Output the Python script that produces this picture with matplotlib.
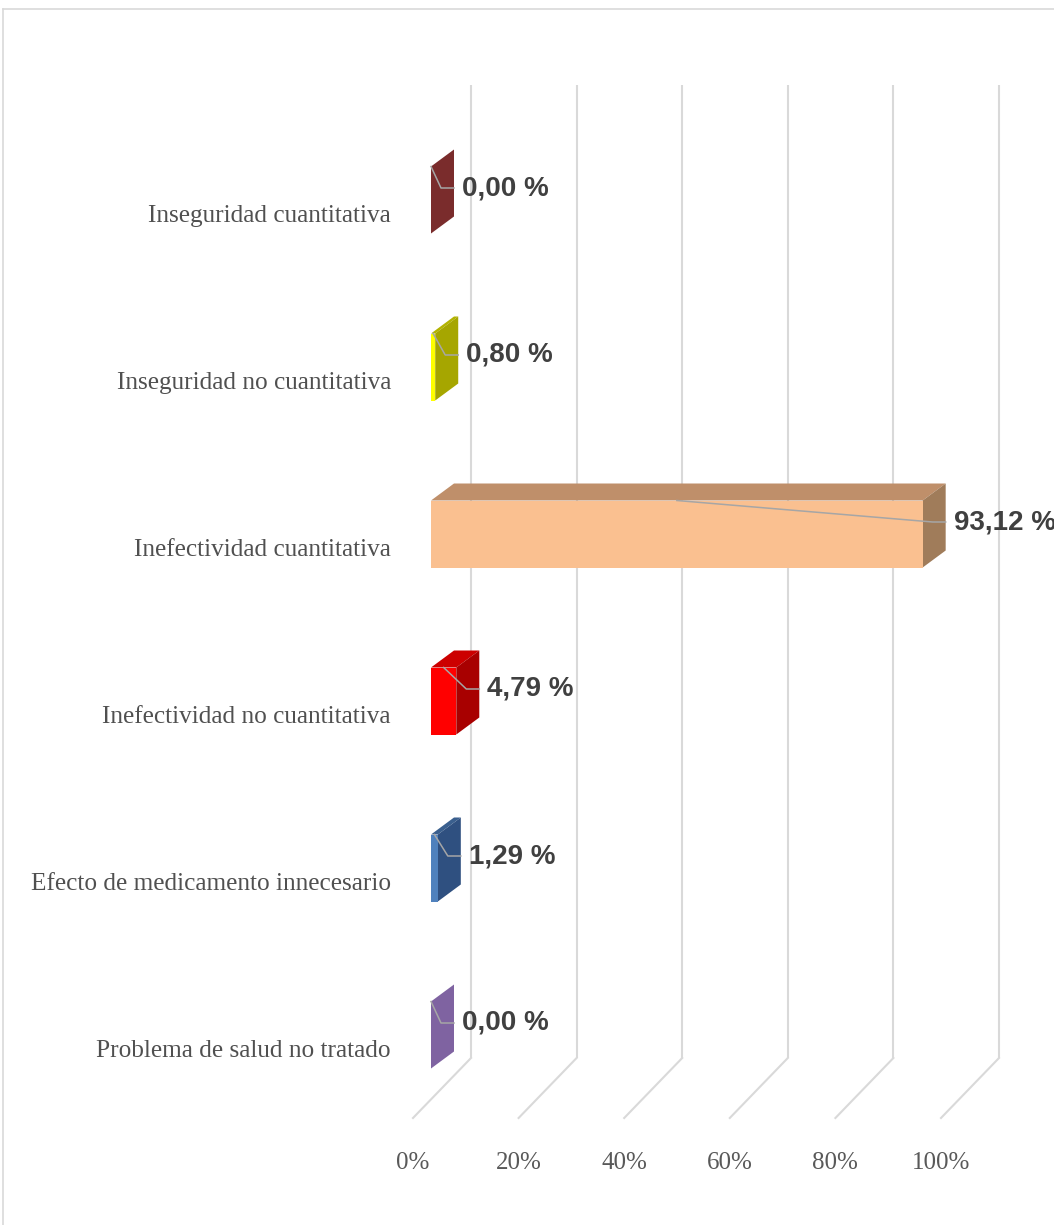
import matplotlib
matplotlib.use("Agg")
import matplotlib.pyplot as plt
from matplotlib.patches import Polygon
from matplotlib.lines import Line2D

# data, bottom category first
categories = ['Problema de salud no tratado', 'Efecto de medicamento innecesario',
              'Inefectividad no cuantitativa', 'Inefectividad cuantitativa',
              'Inseguridad no cuantitativa', 'Inseguridad cuantitativa']
values = [0.00, 1.29, 4.79, 93.12, 0.80, 0.00]
value_labels = ['0,00 %', '1,29 %', '4,79 %', '93,12 %', '0,80 %', '0,00 %']
ticks = [0, 20, 40, 60, 80, 100]
tick_labels = ['0%', '20%', '40%', '60%', '80%', '100%']

front_colors = ['#8064A2', '#4F81BD', '#FF0000', '#FAC090', '#FFFF00', '#953735']
top_colors = ['#7F63A1', '#3A5F8E', '#CC0000', '#BF8F6A', '#B3B300', '#7A2C2C']
side_colors = ['#7F63A1', '#2F5080', '#A80000', '#A07C5A', '#A6A600', '#7A2C2C']

W, H = 1054, 1225
fig = plt.figure(figsize=(W / 100, H / 100), dpi=100)
ax = fig.add_axes([0, 0, 1, 1])

# pixel scale of the axes
px_x = 5.28    # px per percent
px_y = 167.0   # px per category
x0_px, y0_px = 431, 1049   # 0% front edge, first category label
ax.set_xlim(-x0_px / px_x, (W - x0_px) / px_x)
ax.set_ylim((y0_px - H) / px_y, y0_px / px_y)
ax.axis('off')


def dx(p):
    return p / px_x


def dy(p):
    return p / px_y


# back wall / floor gridlines
for t, lab in zip(ticks, tick_labels):
    xb = t + dx(40)
    xf = t - dx(18)
    ax.plot([xb, xb], [dy(y0_px - 85), dy(y0_px - 1058)], color='#D9D9D9', lw=1.5, zorder=1,
            solid_capstyle='butt')
    ax.plot([xb, xf], [dy(y0_px - 1058), dy(y0_px - 1118)], color='#D9D9D9', lw=1.5, zorder=1)
    ax.text(xf, dy(y0_px - 1163), lab, ha='center', va='center', fontsize=18,
            family='Liberation Serif', color='#595959')

# bars
bh = dy(67) / 2
ddx, ddy = dx(23), dy(17)
for i, (v, lab) in enumerate(zip(values, categories)):
    yc = i + dy(14)
    y0, y1 = yc - bh, yc + bh
    ax.add_patch(Polygon([(0, y1), (v, y1), (v + ddx, y1 + ddy), (ddx, y1 + ddy)],
                         closed=True, fc=top_colors[i], ec='none', zorder=3))
    ax.add_patch(Polygon([(v, y0), (v, y1), (v + ddx, y1 + ddy), (v + ddx, y0 + ddy)],
                         closed=True, fc=side_colors[i], ec='none', zorder=3))
    if v > 0:
        ax.add_patch(Polygon([(0, y0), (v, y0), (v, y1), (0, y1)],
                             closed=True, fc=front_colors[i], ec='none', zorder=4))
    # category label
    ax.text(dx(391 - x0_px), i - dy(2), lab, ha='right', va='center', fontsize=18.2,
            family='Liberation Serif', color='#505050')
    # value label with leader line
    lx = v + ddx + dx(8)
    ly = yc + dy(12)
    ax.plot([v / 2, lx - dx(21), lx - dx(8)], [y1, ly, ly], color='#A6A6A6', lw=1.1, zorder=5)
    ax.text(lx, ly, value_labels[i], ha='left', va='center', fontsize=20,
            family='Liberation Sans', fontweight='bold', color='#404040', zorder=6)

# chart frame
fx, fy = 3 / W, 1 - 9 / H
fig.add_artist(Line2D([fx, 1], [fy, fy], transform=fig.transFigure, color='#D9D9D9', lw=1.2))
fig.add_artist(Line2D([fx, fx], [0, fy], transform=fig.transFigure, color='#D9D9D9', lw=1.2))

fig.savefig('out.png', dpi=100)
